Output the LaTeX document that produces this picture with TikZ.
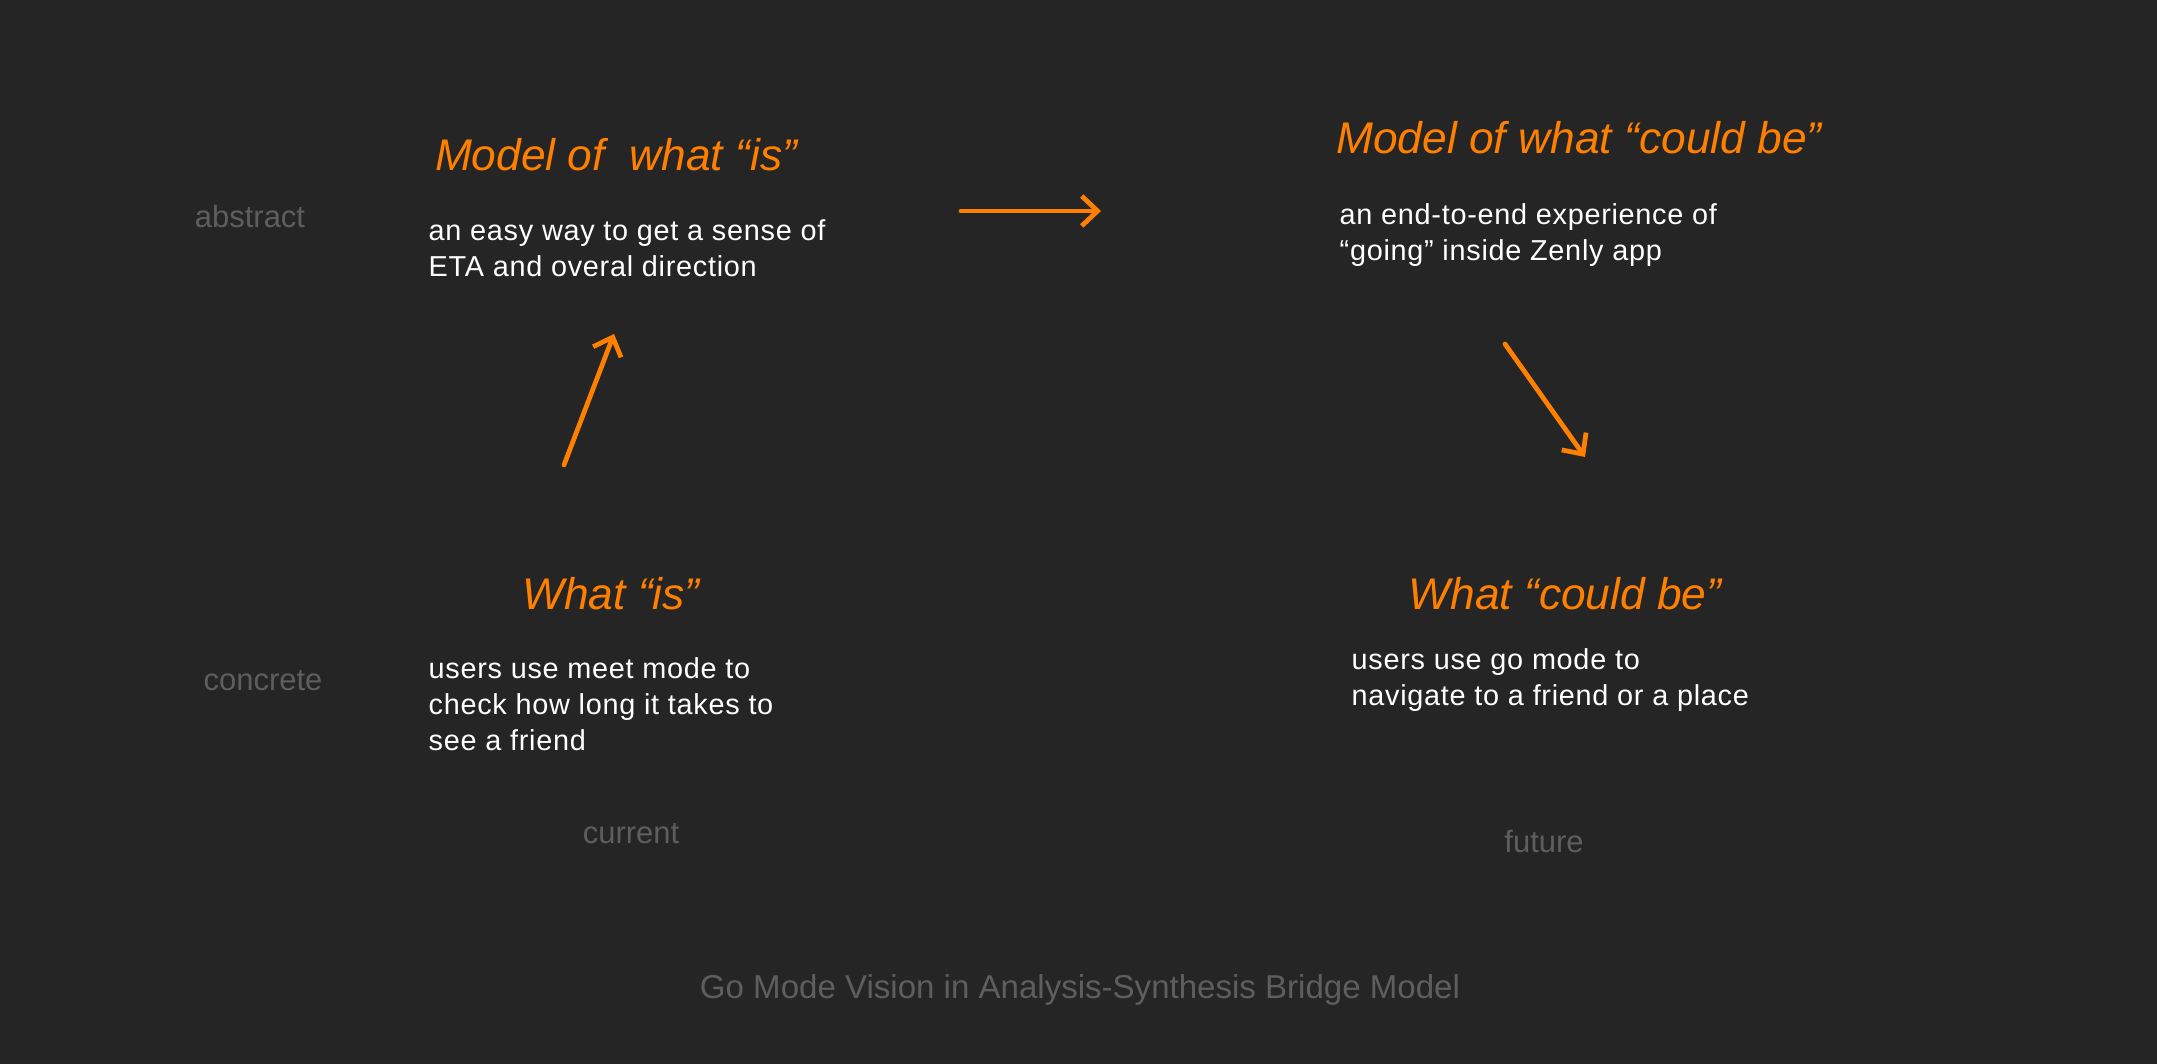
\documentclass[tikz,border=0pt]{standalone}
\usepackage{fontspec}
\setmainfont{Liberation Sans}
\newfontfamily\bodyfont[LetterSpace=2.5]{Liberation Sans}
\usetikzlibrary{arrows.meta}
\definecolor{bg}{HTML}{252525}
\definecolor{accent}{RGB}{255,128,0}
\definecolor{muted}{HTML}{5E5E5E}
\begin{document}
\begin{tikzpicture}[x=0.01cm,y=-0.01cm,
  title/.style={text=accent,inner sep=0pt,font=\fontsize{12.6}{15}\selectfont\itshape},
  body/.style={text=white,inner sep=0pt,anchor=west,align=left,font=\bodyfont\fontsize{8.2}{10.2}\selectfont},
  axis/.style={text=muted,inner sep=0pt,font=\fontsize{8.8}{10}\selectfont},
  flow/.style={accent,line width=1.35pt,line cap=round,line join=round,
    -{Straight Barb[length=4.5pt,width=8.5pt,line width=1.35pt]}}]
  \fill[bg] (0,0) rectangle (2157,1064);
  \useasboundingbox (0,0) rectangle (2157,1064);
  % row labels
  \node[axis] (abstract) at (250,216) {abstract};
  \node[axis] (concrete) at (263,681) {concrete};
  % column labels
  \node[axis] (current) at (631,834) {current};
  \node[axis] (future) at (1544,841) {future};
  % model of what is
  \node[title] (modelis) at (616,155) {Model of\ \ what “is”};
  \node[body] (modelistxt) at (428,248) {an easy way to get a sense of\\ETA and overal direction};
  % model of what could be
  \node[title] (modelcould) at (1579,138) {Model of what “could be”};
  \node[body] (modelcouldtxt) at (1339,235) {an end-to-end experience of\\“going” inside Zenly app};
  % what is
  \node[title] (whatis) at (611,594) {What “is”};
  \node[body] (whatistxt) at (428,704) {users use meet mode to\\check how long it takes to\\see a friend};
  % what could be
  \node[title] (whatcould) at (1565,594) {What “could be”};
  \node[body] (whatcouldtxt) at (1351,680) {users use go mode to\\navigate to a friend or a place};
  % arrows
  \coordinate (upfrom) at (564,465);
  \coordinate (upto) at (614,334);
  \coordinate (rightfrom) at (961,211);
  \coordinate (rightto) at (1101,211);
  \coordinate (downfrom) at (1505,344);
  \coordinate (downto) at (1585,457);
  \draw[flow] (upfrom) -- (upto);
  \draw[flow] (rightfrom) -- (rightto);
  \draw[flow] (downfrom) -- (downto);
  % caption
  \node[axis,font=\fontsize{9.4}{11}\selectfont] (caption) at (1080,990) {Go Mode Vision in Analysis-Synthesis Bridge Model};
\end{tikzpicture}
\end{document}
